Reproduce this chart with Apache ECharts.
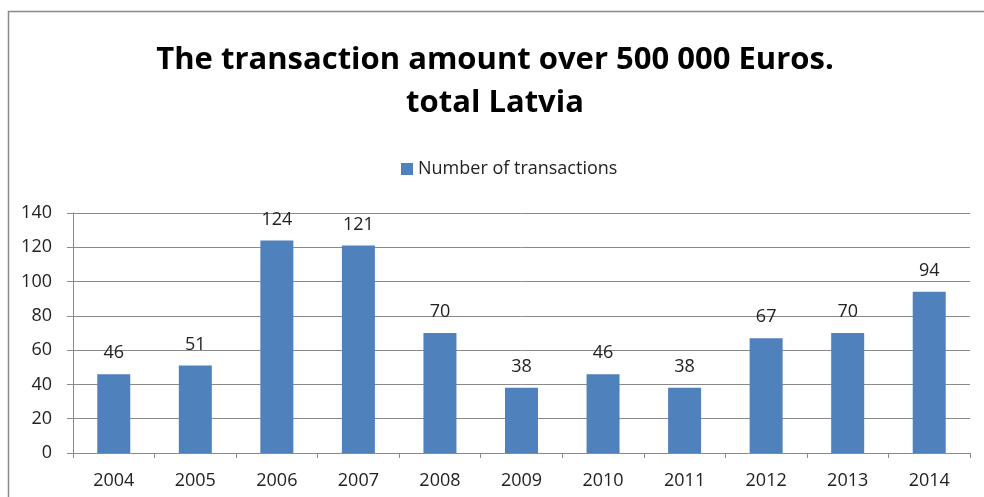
<!DOCTYPE html>
<html>
<head>
<meta charset="utf-8">
<script src="https://cdn.jsdelivr.net/npm/echarts@6/dist/echarts.min.js"></script>
<style>
  html, body { margin: 0; padding: 0; background: #ffffff; }
  #chart { width: 984px; height: 497px; }
</style>
</head>
<body>
<div id="chart"></div>
<script>
// Transactions over 500 000 EUR in Latvia, by year
const years = ['2004', '2005', '2006', '2007', '2008', '2009', '2010', '2011', '2012', '2013', '2014'];
const transactions = [46, 51, 124, 121, 70, 38, 46, 38, 67, 70, 94];
const yTicks = { min: 0, max: 140, interval: 20 };

const FONT = '"Open Sans", Lato, sans-serif';
const chart = echarts.init(document.getElementById('chart'), null, { renderer: 'canvas' });

chart.setOption({
  backgroundColor: '#ffffff',
  animation: false,
  graphic: [{
    type: 'rect',
    shape: { x: 8.5, y: 11.5, width: 1000, height: 600 },
    style: { fill: 'none', stroke: '#8a8a8a', lineWidth: 1.5 },
    silent: true,
    z: -1
  }],
  title: {
    text: 'The transaction amount over 500 000 Euros.\ntotal Latvia',
    left: 490,
    textAlign: 'center',
    top: 34,
    textStyle: {
      fontFamily: FONT,
      fontWeight: 'bold',
      fontSize: 31,
      lineHeight: 43,
      color: '#000000'
    }
  },
  legend: {
    data: ['Number of transactions'],
    left: 396,
    top: 155,
    icon: 'rect',
    itemWidth: 12,
    itemHeight: 12,
    itemGap: 4,
    textStyle: { fontFamily: FONT, fontSize: 18, color: '#222222' }
  },
  grid: {
    left: 73,
    right: 14,
    top: 213,
    bottom: 44,
    containLabel: false
  },
  xAxis: {
    type: 'category',
    data: years,
    axisLine: { lineStyle: { color: '#8a8a8a', width: 1 } },
    axisTick: { show: true, alignWithLabel: false, length: 5, lineStyle: { color: '#8a8a8a' } },
    axisLabel: { fontFamily: FONT, fontSize: 18, color: '#222222', margin: 19 },
    splitLine: { show: false }
  },
  yAxis: {
    type: 'value',
    min: yTicks.min,
    max: yTicks.max,
    interval: yTicks.interval,
    axisLine: { show: true, lineStyle: { color: '#8a8a8a', width: 1 } },
    axisTick: { show: true, inside: false, length: 6, lineStyle: { color: '#8a8a8a' } },
    axisLabel: { fontFamily: FONT, fontSize: 18, color: '#222222', margin: 21 },
    splitLine: { show: true, lineStyle: { color: '#8a8a8a', width: 1 } }
  },
  series: [{
    name: 'Number of transactions',
    type: 'bar',
    data: transactions,
    barWidth: 33,
    itemStyle: { color: '#4f81bd' },
    label: {
      show: true,
      position: 'top',
      distance: 12,
      fontFamily: FONT,
      fontSize: 18,
      color: '#222222'
    }
  }]
});
</script>
</body>
</html>
